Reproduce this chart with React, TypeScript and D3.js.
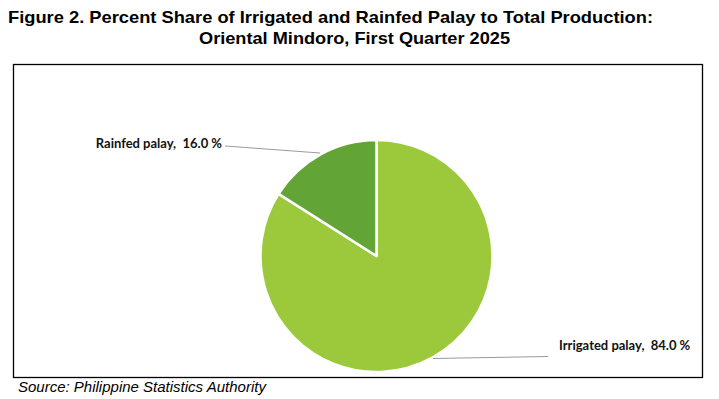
import { useEffect, useRef } from "react";
import * as d3 from "d3";

const categories = ["Irrigated palay", "Rainfed palay"];
const shares = [84.0, 16.0];
const colors = ["#9BC93B", "#63A437"];
const titleLines = [
  "Figure 2. Percent Share of Irrigated and Rainfed Palay to Total Production:",
  "Oriental Mindoro, First Quarter 2025",
];
const source = "Source: Philippine Statistics Authority";

const App = () => {
  const ref = useRef<SVGSVGElement | null>(null);

  useEffect(() => {
    const width = 719;
    const height = 399;
    const cx = 376.5;
    const cy = 256;
    const radius = 116;

    const svg = d3.select(ref.current);
    svg.selectAll("*").remove();

    svg.append("rect").attr("width", width).attr("height", height).attr("fill", "#fff");

    // titles
    const titleX = [8, 199];
    const titleY = [23, 44];
    const titleW = [645, 311];
    titleLines.forEach((t, i) => {
      svg
        .append("text")
        .attr("x", titleX[i])
        .attr("y", titleY[i])
        .attr("font-family", "'Liberation Sans Narrow', 'Liberation Sans', Arial, sans-serif")
        .attr("font-weight", "bold")
        .attr("font-size", 17)
        .attr("textLength", titleW[i])
        .attr("lengthAdjust", "spacingAndGlyphs")
        .attr("fill", "#000")
        .text(t);
    });

    // frame
    svg
      .append("rect")
      .attr("x", 13.5)
      .attr("y", 64.5)
      .attr("width", 689)
      .attr("height", 313)
      .attr("fill", "none")
      .attr("stroke", "#000")
      .attr("stroke-width", 1.3);

    const pie = d3
      .pie<number>()
      .sort(null)
      .value((d) => d);
    const arcs = pie(shares);
    const arc = d3.arc<d3.PieArcDatum<number>>().innerRadius(0).outerRadius(radius);

    const g = svg.append("g").attr("transform", `translate(${cx},${cy})`);
    g.selectAll("path")
      .data(arcs)
      .join("path")
      .attr("d", arc)
      .attr("fill", (_, i) => colors[i])
      .attr("stroke", "#fff")
      .attr("stroke-width", 2.5)
      .attr("stroke-linejoin", "round");

    // leader lines and labels
    const labelPos = [
      { lx: 559, ly: 350, anchor: "start", line: [[433, 358.5], [548, 356.5]] },
      { lx: 222, ly: 148, anchor: "end", line: [[225, 146], [320, 153]] },
    ];
    arcs.forEach((a, i) => {
      const p = labelPos[i];
      svg
        .append("path")
        .attr("d", d3.line()(p.line as [number, number][]))
        .attr("stroke", "#9a9a9a")
        .attr("stroke-width", 1)
        .attr("fill", "none");
      svg
        .append("text")
        .attr("x", p.lx)
        .attr("y", p.ly)
        .attr("text-anchor", p.anchor)
        .attr("font-family", "Lato, 'Open Sans', sans-serif")
        .attr("font-weight", "bold")
        .attr("font-size", 13)
        .attr("fill", "#111")
        .attr("xml:space", "preserve")
        .text(`${categories[i]},  ${d3.format(".1f")(a.data)} %`);
    });

    svg
      .append("text")
      .attr("x", 18)
      .attr("y", 392)
      .attr("font-family", "'Liberation Sans', Arial, sans-serif")
      .attr("font-style", "italic")
      .attr("font-size", 15)
      .attr("fill", "#000")
      .text(source);
  }, []);

  return (
    <svg
      ref={ref}
      width={719}
      height={399}
      style={{ position: "absolute", left: 0, top: 0 }}
    ></svg>
  );
};

export default App;
